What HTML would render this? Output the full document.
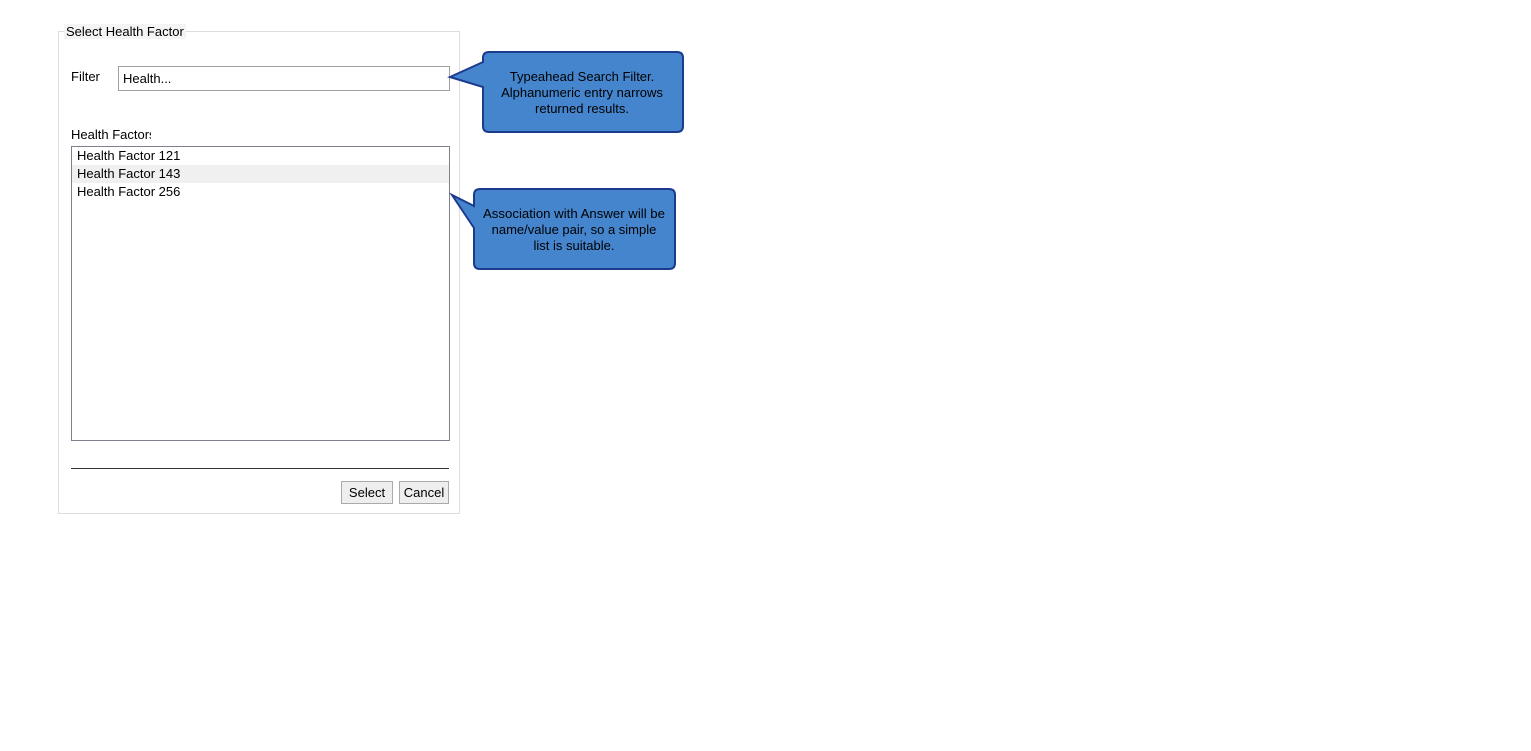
<!DOCTYPE html>
<html><head><style>
body{margin:0;width:1531px;height:751px;background:#fff;position:relative;font-family:"Liberation Sans",Arial,sans-serif;font-size:13px;color:#000;overflow:hidden}
.a{position:absolute}
</style></head><body>
<div class="a" style="left:58px;top:31px;width:400px;height:481px;border:1px solid #ddd"></div>
<div class="a" style="left:64px;top:24px;background:#f4f4f4;padding:0 2px;font-size:13px;line-height:15px">Select Health Factor</div>
<div class="a" style="left:71px;top:69px">Filter</div>
<div class="a" style="left:118px;top:66px;width:330px;height:23px;border:1px solid #a0a0a0;box-sizing:content-box"></div>
<div class="a" style="left:123px;top:71px">Health...</div>
<div class="a" style="left:71px;top:127px;width:80px;overflow:hidden;white-space:nowrap">Health Factors</div>
<div class="a" style="left:71px;top:146px;width:377px;height:293px;border:1px solid #80808f"></div>
<div class="a" style="left:72px;top:165px;width:377px;height:18px;background:#f0f0f0"></div>
<div class="a" style="left:77px;top:148px">Health Factor 121</div>
<div class="a" style="left:77px;top:166px">Health Factor 143</div>
<div class="a" style="left:77px;top:184px">Health Factor 256</div>
<div class="a" style="left:71px;top:468px;width:378px;height:1px;background:#333"></div>
<div class="a" style="left:341px;top:481px;width:50px;height:21px;border:1px solid #aaa;background:#eee;text-align:center;line-height:21px">Select</div>
<div class="a" style="left:399px;top:481px;width:48px;height:21px;border:1px solid #aaa;background:#eee;text-align:center;line-height:21px">Cancel</div>
<svg class="a" style="left:0;top:0" width="1531" height="751">
<path d="M489,52 H677 Q683,52 683,58 V126 Q683,132 677,132 H489 Q483,132 483,126 V87 L450,77 L483,62 V58 Q483,52 489,52 Z" fill="#4485cd" stroke="#1d3b8c" stroke-width="2"/>
<path d="M480,189 H669 Q675,189 675,195 V263 Q675,269 669,269 H480 Q474,269 474,263 V228 L452,195 L474,206 V195 Q474,189 480,189 Z" fill="#4485cd" stroke="#1d3b8c" stroke-width="2"/>
<g font-family="Liberation Sans, Arial, sans-serif" font-size="13" text-anchor="middle" fill="#000">
<text x="582" y="81">Typeahead Search Filter.</text>
<text x="582" y="97">Alphanumeric entry narrows</text>
<text x="582" y="113">returned results.</text>
</g>
<g font-family="Liberation Sans, Arial, sans-serif" font-size="13" text-anchor="middle" fill="#000">
<text x="574" y="218" textLength="182" lengthAdjust="spacingAndGlyphs">Association with Answer will be</text>
<text x="574" y="234">name/value pair, so a simple</text>
<text x="574" y="250">list is suitable.</text>
</g>
</svg>
</body></html>
